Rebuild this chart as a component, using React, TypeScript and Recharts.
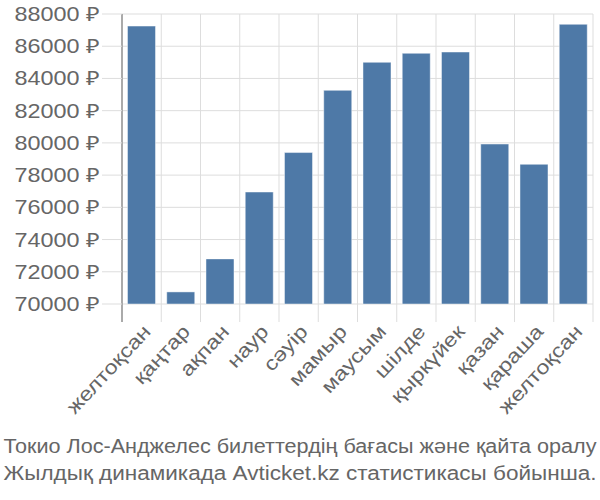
import { BarChart, Bar, XAxis, YAxis, CartesianGrid, ReferenceLine } from 'recharts';

const months = ['желтоқсан', 'қаңтар', 'ақпан', 'наур', 'сәуір', 'мамыр', 'маусым', 'шілде', 'қыркүйек', 'қазан', 'қараша', 'желтоқсан'];
const prices = [87250, 70750, 72800, 76950, 79400, 83260, 85000, 85560, 85640, 79930, 78670, 87360];
const yTicks = [70000, 72000, 74000, 76000, 78000, 80000, 82000, 84000, 86000, 88000];
const footerLines = [
  'Токио Лос-Анджелес билеттердің бағасы және қайта оралу',
  'Жылдық динамикада Avticket.kz статистикасы бойынша.',
];

const chartData = months.map((m, i) => ({ key: String(i), month: m, price: prices[i] }));

const FONT = '"Liberation Sans", Arial, sans-serif';
const TEXT = '#666666';
// boundary lines run a little below the baseline, like tick marks
const Y_TICK_END = 68880;
const Y_TOP = 88000;

const PriceTick = ({ x, y, payload }: any) => (
  <text
    transform={`translate(${x},${y}) scale(1.2,1)`}
    textAnchor="end"
    dy="0.36em"
    fill={TEXT}
    fontSize={19.5}
    fontFamily={FONT}
  >
    {`${payload.value} ₽`}
  </text>
);

const MonthTick = ({ x, y, payload }: any) => (
  <text
    transform={`translate(${x},${y}) rotate(-47) scale(1.2,1)`}
    textAnchor="end"
    dy="0.72em"
    fill={TEXT}
    fontSize={19.5}
    fontFamily={FONT}
  >
    {months[Number(payload.value)]}
  </text>
);

const boundaryLine = (key: string, position: 'start' | 'end', stroke: string, width: number) => (
  <ReferenceLine
    key={`${key}-${position}`}
    xAxisId="cat"
    position={position}
    segment={[{ x: key, y: Y_TICK_END }, { x: key, y: Y_TOP }]}
    ifOverflow="visible"
    stroke={stroke}
    strokeWidth={width}
  />
);

export default function App() {
  return (
    <div style={{ position: 'absolute', left: 0, top: 0, width: 600, height: 500, background: '#fff' }}>
      <BarChart
        width={600}
        height={430}
        data={chartData}
        margin={{ top: 14, right: 7, left: 0, bottom: 0 }}
        barCategoryGap="14%"
      >
        <CartesianGrid vertical={false} stroke="#dddddd" strokeWidth={1} />
        <XAxis
          xAxisId="cat"
          dataKey="key"
          tick={<MonthTick />}
          tickLine={false}
          axisLine={false}
          tickSize={0}
          tickMargin={19}
          height={126}
          interval={0}
        />
        <YAxis
          domain={[70000, 88000]}
          ticks={yTicks}
          width={122}
          tickSize={20}
          tickMargin={2}
          tickLine={{ stroke: '#dddddd' }}
          axisLine={false}
          tick={<PriceTick />}
          allowDataOverflow
        />
        <Bar
          xAxisId="cat"
          dataKey="price"
          fill="#4e79a7"
          stroke="#ffffff"
          strokeOpacity={0.45}
          isAnimationActive={false}
        />
        {chartData.slice(1).map((d) => boundaryLine(d.key, 'start', '#dddddd', 1))}
        {boundaryLine(chartData[chartData.length - 1].key, 'end', '#dddddd', 1)}
        {boundaryLine(chartData[0].key, 'start', '#aaaaaa', 2)}
      </BarChart>
      <svg width={600} height={70} style={{ position: 'absolute', left: 0, top: 430 }}>
        {footerLines.map((line, i) => (
          <text
            key={i}
            x={300}
            y={23 + i * 26.5}
            textAnchor="middle"
            textLength={593}
            lengthAdjust="spacingAndGlyphs"
            fill={TEXT}
            fontSize={20}
            fontFamily={FONT}
          >
            {line}
          </text>
        ))}
      </svg>
    </div>
  );
}
